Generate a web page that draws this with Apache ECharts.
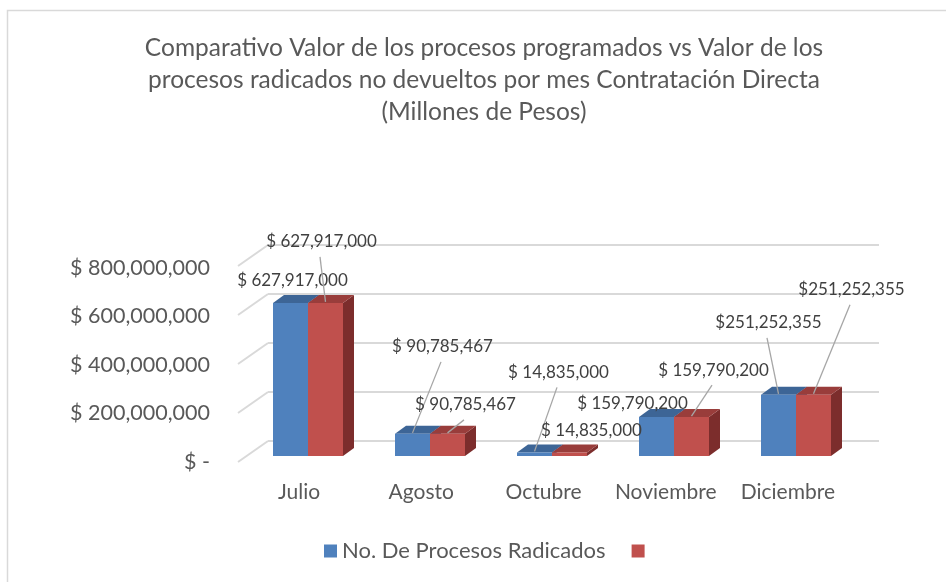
<!DOCTYPE html>
<html>
<head>
<meta charset="utf-8">
<script src="https://cdn.jsdelivr.net/npm/echarts@6/dist/echarts.min.js"></script>
<style>
  html, body { margin: 0; padding: 0; background: #fff; }
  #chart { width: 946px; height: 582px; }
</style>
</head>
<body>
<div id="chart"></div>
<script>
const months = ['Julio', 'Agosto', 'Octubre', 'Noviembre', 'Diciembre']
const radicados = [627917000, 90785467, 14835000, 159790200, 251252355]
const programados = [627917000, 90785467, 14835000, 159790200, 251252355]
const axisTicks = [0, 200000000, 400000000, 600000000, 800000000]

// hand placed data labels (pixel shift from the bar top), like in the workbook
const blueLabelShift = [[2, -22], [30, -87], [24, -80], [-24, -14], [-10, -72]]
const redLabelShift = [[-4, -61], [18, -29], [22, -22], [22, -47], [38, -105]]
const blueLeader = [false, true, true, false, true]
const redLeader = [true, true, false, true, true]

const FONT = 'Lato, "Open Sans", sans-serif'
const TEXT = '#595959'
const GRID_LINE = '#D9D9D9'
const BAR_W = 35
const DEPTH = [11, -8]
const WALL = [30, -21]

const colors = {
  blue: { front: '#4F81BD', top: '#3D6596', side: '#385D8A' },
  red: { front: '#C0504D', top: '#993D3B', side: '#7C2D2C' },
}

function money(v, i) {
  const sign = months[i] === 'Diciembre' ? '$' : '$ '
  return sign + v.toLocaleString('en-US')
}

function bar3d(side, c) {
  return function (params, api) {
    const i = api.value(0)
    const top = api.coord([i, api.value(1)])
    const base = api.coord([i, 0])
    const x0 = side === 0 ? top[0] - BAR_W : top[0]
    const x1 = x0 + BAR_W
    const [dx, dy] = DEPTH
    return {
      type: 'group',
      children: [
        {
          type: 'polygon',
          shape: { points: [[x1, top[1]], [x1 + dx, top[1] + dy], [x1 + dx, base[1] + dy], [x1, base[1]]] },
          style: { fill: c.side },
        },
        {
          type: 'polygon',
          shape: { points: [[x0, top[1]], [x1, top[1]], [x1 + dx, top[1] + dy], [x0 + dx, top[1] + dy]] },
          style: { fill: c.top },
        },
        {
          type: 'rect',
          shape: { x: x0, y: top[1], width: BAR_W, height: base[1] - top[1] },
          style: { fill: c.front },
        },
      ],
    }
  }
}

function labelItem(point, shift, leader, text) {
  const lx = point[0] + shift[0]
  const ly = point[1] + shift[1]
  const out = [
    {
      type: 'text',
      x: lx,
      y: ly,
      style: { text, fill: '#404040', font: '17px ' + FONT, align: 'center', verticalAlign: 'middle' },
    },
  ]
  if (leader) {
    out.push({
      type: 'line',
      shape: { x1: lx - 1.5, y1: ly + 15, x2: point[0], y2: point[1] - 1 },
      style: { stroke: '#A6A6A6', lineWidth: 1.3 },
    })
  }
  return out
}

const chart = echarts.init(document.getElementById('chart'))

chart.setOption({
  animation: false,
  backgroundColor: '#fff',
  textStyle: { fontFamily: FONT, color: TEXT },
  title: {
    text: 'Comparativo Valor de los procesos programados vs Valor de los\nprocesos radicados no devueltos por mes Contratación Directa\n(Millones de Pesos)',
    left: 484,
    top: 32,
    padding: 0,
    textAlign: 'center',
    textStyle: { fontFamily: FONT, fontSize: 24.5, fontWeight: 'normal', color: TEXT, lineHeight: 32 },
  },
  legend: {
    left: 324,
    top: 540,
    padding: 0,
    icon: 'rect',
    itemWidth: 13,
    itemHeight: 13,
    itemGap: 26,
    data: ['No. De Procesos Radicados', ' '],
    textStyle: { fontFamily: FONT, fontSize: 22, color: TEXT },
  },
  graphic: [
    {
      type: 'rect',
      shape: { x: 7.5, y: 10.5, width: 960, height: 600 },
      style: { fill: 'none', stroke: GRID_LINE, lineWidth: 1.5 },
      silent: true,
    },
  ],
  grid: [
    // bars, middle of the depth
    { left: 247, width: 610, top: 261, height: 195 },
    // back wall
    { left: 268, width: 611, top: 245, height: 196 },
    // front plane, carries the labels
    { left: 238, width: 611, top: 268, height: 194 },
  ],
  xAxis: [
    { gridIndex: 0, type: 'category', data: months, show: false },
    { gridIndex: 1, type: 'category', data: months, show: false },
    {
      gridIndex: 2,
      type: 'category',
      data: months,
      axisLine: { show: false },
      axisTick: { show: false },
      axisLabel: { interval: 0, color: TEXT, fontSize: 21, fontFamily: FONT, margin: 20 },
    },
  ],
  yAxis: [
    { gridIndex: 0, type: 'value', min: 0, max: 800000000, interval: 200000000, show: false },
    {
      gridIndex: 1,
      type: 'value',
      min: 0,
      max: 800000000,
      interval: 200000000,
      axisLabel: { show: false },
      axisLine: { show: false },
      axisTick: { show: false },
      splitLine: { lineStyle: { color: GRID_LINE, width: 2 } },
    },
    {
      gridIndex: 2,
      type: 'value',
      min: 0,
      max: 800000000,
      interval: 200000000,
      axisLine: { show: false },
      axisTick: { show: false },
      splitLine: { show: false },
      axisLabel: {
        color: TEXT,
        fontSize: 21.5,
        fontFamily: FONT,
        margin: 28,
        formatter: (v) => (v === 0 ? '$ -' : '$ ' + v.toLocaleString('en-US')),
      },
    },
  ],
  series: [
    {
      // side wall stubs joining the front labels to the back grid lines
      type: 'custom',
      xAxisIndex: 1,
      yAxisIndex: 1,
      silent: true,
      data: axisTicks.map((v) => [0, v]),
      renderItem(params, api) {
        const p = api.coord([0, api.value(1)])
        const x = p[0] - api.size([1, 0])[0] / 2
        return {
          type: 'line',
          shape: { x1: x, y1: p[1], x2: x - WALL[0], y2: p[1] - WALL[1] },
          style: { stroke: GRID_LINE, lineWidth: 2 },
        }
      },
    },
    {
      name: 'No. De Procesos Radicados',
      type: 'custom',
      z: 3,
      itemStyle: { color: colors.blue.front },
      data: radicados.map((v, i) => [i, v]),
      renderItem: bar3d(0, colors.blue),
    },
    {
      name: ' ',
      type: 'custom',
      z: 4,
      itemStyle: { color: colors.red.front },
      data: programados.map((v, i) => [i, v]),
      renderItem: bar3d(1, colors.red),
    },
    {
      type: 'custom',
      z: 10,
      silent: true,
      data: months.map((m, i) => [i, radicados[i], programados[i]]),
      renderItem(params, api) {
        const i = api.value(0)
        const b = api.coord([i, api.value(1)])
        const r = api.coord([i, api.value(2)])
        const bp = [b[0] - BAR_W / 2, b[1]]
        const rp = [r[0] + BAR_W / 2, r[1]]
        return {
          type: 'group',
          children: [
            ...labelItem(bp, blueLabelShift[i], blueLeader[i], money(radicados[i], i)),
            ...labelItem(rp, redLabelShift[i], redLeader[i], money(programados[i], i)),
          ],
        }
      },
    },
  ],
})
</script>
</body>
</html>
